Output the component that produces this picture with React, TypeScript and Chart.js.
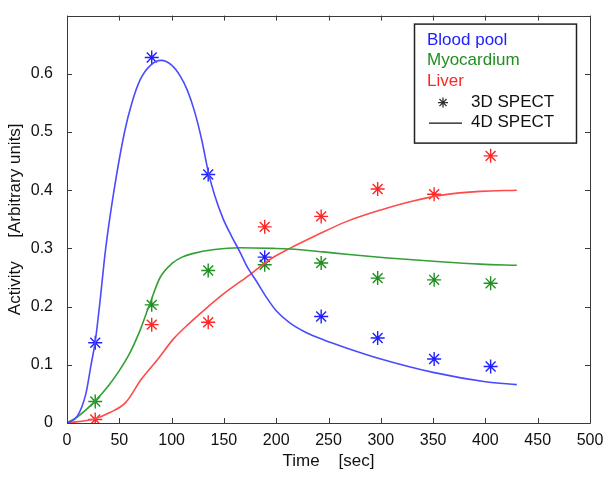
import React, { useEffect, useRef } from "react";
import { Chart, registerables } from "chart.js";

Chart.register(...registerables);

// ---- Data ----
const scanTimes = [27, 81, 135, 189, 243, 297, 351, 405];
const bloodPool3D = [0.138, 0.628, 0.427, 0.285, 0.183, 0.146, 0.11, 0.097];
const myocardium3D = [0.037, 0.203, 0.262, 0.272, 0.275, 0.249, 0.246, 0.24];
const liver3D = [0.006, 0.169, 0.173, 0.337, 0.355, 0.402, 0.393, 0.459];

const bloodCurveTimes = [0, 10, 18, 23, 27, 31, 37, 45, 55, 62, 70, 80, 90, 100, 108, 115, 122, 129, 135, 141, 149, 157, 165, 173, 181, 191, 200, 213, 229, 245, 267, 300, 350, 400, 430];
const bloodCurve = [0, 0.012, 0.05, 0.1, 0.14, 0.2, 0.3, 0.4, 0.5, 0.55, 0.59, 0.615, 0.623, 0.615, 0.597, 0.572, 0.535, 0.485, 0.432, 0.392, 0.352, 0.322, 0.295, 0.266, 0.244, 0.215, 0.193, 0.172, 0.155, 0.143, 0.129, 0.11, 0.087, 0.071, 0.066];

const myoCurveTimes = [0, 11, 27, 40, 50, 60, 70, 79, 89, 101, 110, 120, 141, 165, 197, 213, 245, 267, 304, 357, 395, 430];
const myoCurve = [0, 0.012, 0.038, 0.065, 0.09, 0.12, 0.16, 0.204, 0.25, 0.275, 0.285, 0.291, 0.298, 0.301, 0.3, 0.299, 0.294, 0.29, 0.284, 0.277, 0.273, 0.271];

const liverCurveTimes = [0, 26, 41, 56, 71, 87, 102, 118, 135, 149, 175, 194, 213, 239, 267, 300, 330, 360, 395, 430];
const liverCurve = [0, 0.007, 0.018, 0.035, 0.075, 0.11, 0.145, 0.173, 0.2, 0.221, 0.255, 0.281, 0.3, 0.323, 0.346, 0.366, 0.381, 0.392, 0.398, 0.4];

const seriesNames = ["Blood pool", "Myocardium", "Liver"];
const methodNames = ["3D SPECT", "4D SPECT"];
const xTitle = "Time    [sec]";
const yTitle = "Activity     [Arbitrary units]";

const lineColors = ["#4a4aff", "#34a034", "#ff4a4a"];
const starColors = ["#2020ff", "#1f8f1f", "#ff2626"];

const FONT = "'Liberation Sans', Arial, sans-serif";

const toPts = (xs: number[], ys: number[]) => xs.map((x, i) => ({ x, y: ys[i] }));

const framePlugin = {
  id: "matlabFrame",
  afterDraw(chart: any) {
    const ctx = chart.ctx;
    const a = chart.chartArea;
    const xs = chart.scales.x;
    const ys = chart.scales.y;
    ctx.save();
    ctx.strokeStyle = "#3a3a3a";
    ctx.lineWidth = 1;
    ctx.beginPath();
    ctx.rect(Math.round(a.left) + 0.5, Math.round(a.top) + 0.5, Math.round(a.right - a.left), Math.round(a.bottom - a.top));
    ctx.stroke();
    const tl = 5;
    ctx.beginPath();
    xs.ticks.forEach((t: any) => {
      const px = Math.round(xs.getPixelForValue(t.value)) + 0.5;
      ctx.moveTo(px, a.bottom);
      ctx.lineTo(px, a.bottom - tl);
      ctx.moveTo(px, a.top);
      ctx.lineTo(px, a.top + tl);
    });
    ys.ticks.forEach((t: any) => {
      const py = Math.round(ys.getPixelForValue(t.value)) + 0.5;
      ctx.moveTo(a.left, py);
      ctx.lineTo(a.left + tl, py);
      ctx.moveTo(a.right, py);
      ctx.lineTo(a.right - tl, py);
    });
    ctx.stroke();

    // Legend box
    const boxW = 162;
    const boxH = 119;
    const boxL = a.right - 14 - boxW;
    const boxT = a.top + 8;
    ctx.fillStyle = "#ffffff";
    ctx.fillRect(boxL, boxT, boxW, boxH);
    ctx.strokeStyle = "#222";
    ctx.lineWidth = 1.5;
    ctx.strokeRect(boxL + 0.5, boxT + 0.5, boxW, boxH);
    ctx.font = `17px ${FONT}`;
    ctx.textBaseline = "middle";
    ctx.textAlign = "left";
    const rows = [17, 37, 58, 79, 99];
    seriesNames.forEach((n, i) => {
      ctx.fillStyle = starColors[i];
      ctx.fillText(n, boxL + 13, boxT + rows[i]);
    });
    ctx.fillStyle = "#111";
    ctx.fillText(methodNames[0], boxL + 57, boxT + rows[3]);
    ctx.fillText(methodNames[1], boxL + 57, boxT + rows[4]);
    // star glyph
    const cx = boxL + 29;
    const cy = boxT + rows[3];
    const r = 5;
    ctx.strokeStyle = "#333";
    ctx.lineWidth = 1.3;
    ctx.beginPath();
    for (let k = 0; k < 4; k++) {
      const ang = (k * Math.PI) / 4;
      ctx.moveTo(cx - r * Math.cos(ang), cy - r * Math.sin(ang));
      ctx.lineTo(cx + r * Math.cos(ang), cy + r * Math.sin(ang));
    }
    ctx.stroke();
    // line glyph
    ctx.strokeStyle = "#111";
    ctx.lineWidth = 1.3;
    ctx.beginPath();
    ctx.moveTo(boxL + 15, boxT + rows[4] + 0.5);
    ctx.lineTo(boxL + 48, boxT + rows[4] + 0.5);
    ctx.stroke();
    ctx.restore();
  },
};

export default function App() {
  const ref = useRef<HTMLCanvasElement | null>(null);
  useEffect(() => {
    if (!ref.current) return;
    const curves = [
      toPts(bloodCurveTimes, bloodCurve),
      toPts(myoCurveTimes, myoCurve),
      toPts(liverCurveTimes, liverCurve),
    ];
    const stars = [bloodPool3D, myocardium3D, liver3D].map((v) => toPts(scanTimes, v));
    const datasets: any[] = [];
    curves.forEach((c, i) => {
      datasets.push({
        label: seriesNames[i] + " " + methodNames[1],
        data: c,
        showLine: true,
        borderColor: lineColors[i],
        backgroundColor: lineColors[i],
        borderWidth: 1.6,
        pointRadius: 0,
        cubicInterpolationMode: "monotone",
        fill: false,
      });
    });
    stars.forEach((s, i) => {
      datasets.push({
        label: seriesNames[i] + " " + methodNames[0],
        data: s,
        showLine: false,
        pointStyle: "star",
        pointRadius: 7,
        pointBorderWidth: 1.4,
        borderColor: starColors[i],
        backgroundColor: starColors[i],
      });
    });
    const tickFont = { family: FONT, size: 16 };
    const titleFont = { family: FONT, size: 17 };
    const chart = new Chart(ref.current, {
      type: "scatter",
      data: { datasets },
      options: {
        animation: false,
        responsive: false,
        layout: { padding: { top: 13, right: 22, left: 0, bottom: 0 } },
        plugins: { legend: { display: false }, tooltip: { enabled: false } },
        scales: {
          x: {
            type: "linear",
            min: 0,
            max: 500,
            grid: { display: false },
            border: { display: false },
            ticks: { stepSize: 50, font: tickFont, color: "#111", padding: 0, maxRotation: 0 },
            title: { display: true, text: xTitle, font: titleFont, color: "#111", padding: { top: 0, bottom: 8 } },
            afterFit: (s: any) => {
              s.height = 57;
            },
          },
          y: {
            type: "linear",
            min: 0,
            max: 0.7,
            grid: { display: false },
            border: { display: false },
            ticks: {
              stepSize: 0.1,
              font: tickFont,
              color: "#111",
              padding: 6,
              callback: (v: any) => (Math.abs(v - 0.7) < 1e-6 ? "" : String(Number(Number(v).toFixed(1)))),
            },
            title: { display: true, text: yTitle, font: titleFont, color: "#111", padding: { top: 5, bottom: 0 } },
            afterFit: (s: any) => {
              s.width = 67;
            },
          },
        },
      },
      plugins: [framePlugin],
    } as any);
    return () => chart.destroy();
  }, []);
  return (
    <div style={{ position: "absolute", left: 0, top: 0, width: 612, height: 480, background: "#fff" }}>
      <canvas ref={ref} width={612} height={480} style={{ width: 612, height: 480 }} />
    </div>
  );
}
